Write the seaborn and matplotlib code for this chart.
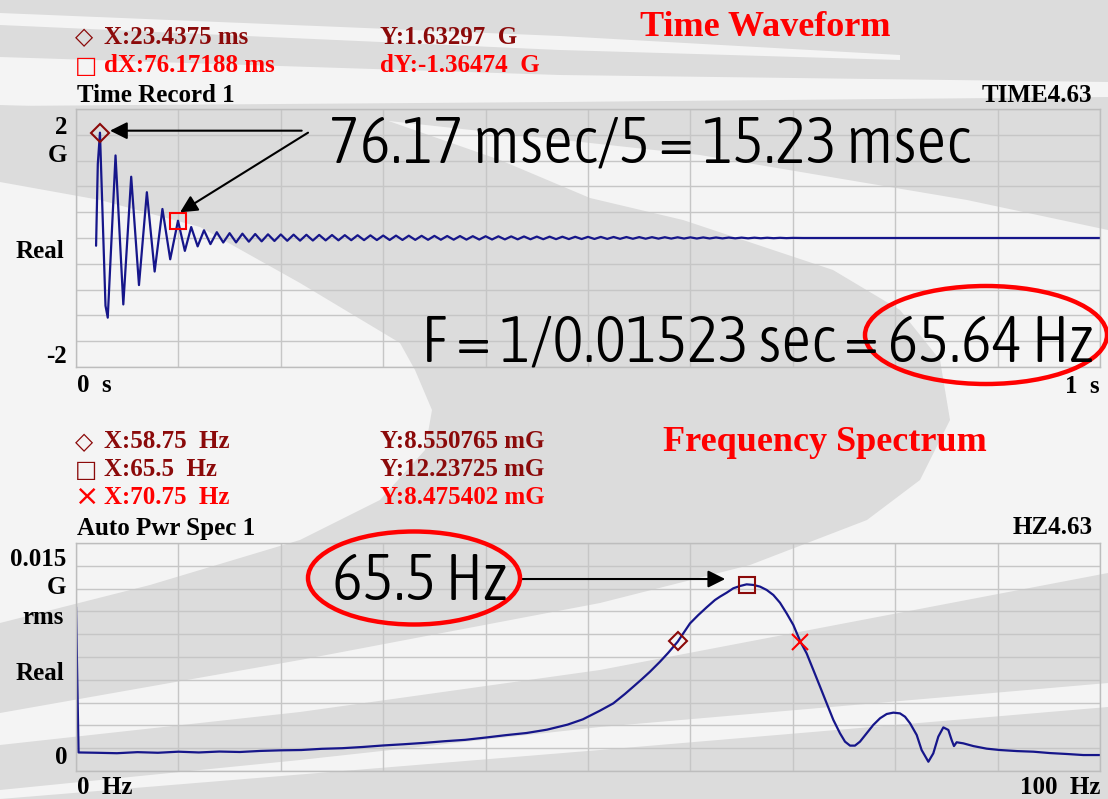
import numpy as np
import pandas as pd
import matplotlib
matplotlib.use("Agg")
import matplotlib.pyplot as plt
import seaborn as sns
from matplotlib import font_manager
from matplotlib.font_manager import FontProperties
from matplotlib.textpath import TextPath
from matplotlib.patches import Polygon, Ellipse

W, H = 1108, 799

# --- time waveform: extremes (ms, G) ---
wave_ms = [19.6, 21.3, 23.4, 28.8, 31.0, 38.6, 46.2, 53.9, 61.5, 69.2, 76.8, 84.4, 92.0, 99.6]
wave_g = [-0.12, 1.15, 1.633, -1.05, -1.235, 1.28, -1.03, 0.95, -0.73, 0.71, -0.52, 0.45, -0.33, 0.268]

# ringing tail (ms, G)
tail_ms = [106.3, 112.5, 118.8, 125.0, 131.3, 137.5, 143.8, 150.0,
           156.3, 162.5, 168.8, 175.0, 181.3, 187.5, 193.8, 200.0,
           206.3, 212.5, 218.8, 225.0, 231.3, 237.5, 243.8, 250.0,
           256.3, 262.5, 268.8, 275.0, 281.3, 287.5, 293.8, 300.0,
           306.3, 312.5, 318.8, 325.0, 331.3, 337.5, 343.8, 350.0,
           356.3, 362.5, 368.8, 375.0, 381.3, 387.5, 393.8, 400.0,
           406.3, 412.5, 418.8, 425.0, 431.3, 437.5, 443.8, 450.0,
           456.3, 462.5, 468.8, 475.0, 481.3, 487.5, 493.8, 500.0,
           506.3, 512.5, 518.8, 525.0, 531.3, 537.5, 543.8, 550.0,
           556.3, 562.5, 568.8, 575.0, 581.3, 587.5, 593.8, 600.0,
           606.3, 612.5, 618.8, 625.0, 631.3, 637.5, 643.8, 650.0,
           656.3, 662.5, 668.8, 675.0, 681.3, 687.5, 693.8, 700.0,
           710.0, 1000.0]
tail_g = [-0.20, 0.17, -0.13, 0.12, -0.095, 0.09, -0.07, 0.075,
          -0.068, 0.067, -0.057, 0.062, -0.052, 0.057, -0.046, 0.055,
          -0.043, 0.052, -0.041, 0.050, -0.039, 0.048, -0.037, 0.046,
          -0.036, 0.044, -0.034, 0.043, -0.033, 0.041, -0.032, 0.038,
          -0.031, 0.037, -0.030, 0.036, -0.029, 0.034, -0.028, 0.033,
          -0.027, 0.031, -0.026, 0.030, -0.025, 0.028, -0.024, 0.027,
          -0.023, 0.026, -0.022, 0.025, -0.021, 0.024, -0.020, 0.022,
          -0.019, 0.021, -0.018, 0.020, -0.017, 0.019, -0.016, 0.018,
          -0.015, 0.017, -0.014, 0.016, -0.013, 0.015, -0.012, 0.014,
          -0.011, 0.013, -0.010, 0.012, -0.009, 0.011, -0.008, 0.010,
          -0.008, 0.009, -0.007, 0.008, -0.006, 0.007, -0.005, 0.006,
          -0.005, 0.005, -0.004, 0.004, -0.003, 0.003, -0.002, 0.002,
          0.0, 0.0]

# --- auto power spectrum (Hz, mG) ---
spec_hz = [0, 0.25, 2, 4, 6, 8, 10, 12, 14, 16, 18, 20, 22, 24, 26, 28, 30,
           32, 34, 36, 38, 40, 42, 44, 46, 48, 49.5,
           51.17, 52.47, 53.61, 54.43, 55.24, 56.05, 57.03, 57.84, 58.76,
           59.31, 59.96, 60.77, 61.59, 62.40, 62.89, 63.54, 64.19, 64.84,
           65.49, 66.15, 66.80, 67.45, 68.10, 68.75, 69.40, 70.05, 70.74,
           71.35, 72.01, 72.66, 73.31, 73.96, 74.61, 75.10, 75.59, 76.07,
           76.56, 77.21, 77.86, 78.52, 79.17, 79.82, 80.47, 80.96, 81.45,
           82.10, 82.58, 83.24, 83.72, 84.21, 84.70, 85.19, 85.51, 85.74,
           86.00, 86.65, 87.63, 88.93, 90.23, 91.9, 93.49, 95.1, 96.74,
           98.37, 100.0]
spec_mg = [10.8, 1.22, 1.2, 1.17, 1.24, 1.2, 1.27, 1.22, 1.28, 1.25, 1.32,
           1.36, 1.38, 1.46, 1.5, 1.58, 1.68, 1.76, 1.85, 1.96, 2.05, 2.2,
           2.36, 2.5, 2.72, 3.05, 3.4,
           3.97, 4.45, 5.07, 5.55, 6.03, 6.53, 7.19, 7.78, 8.51,
           9.06, 9.71, 10.26, 10.77, 11.25, 11.47, 11.73, 12.02, 12.17,
           12.28, 12.24, 12.13, 11.91, 11.58, 11.07, 10.37, 9.61, 8.51,
           7.74, 6.64, 5.55, 4.45, 3.36, 2.48, 1.93, 1.67, 1.67,
           1.93, 2.48, 3.03, 3.47, 3.75, 3.84, 3.79, 3.57, 3.14,
           2.37, 1.38, 0.61, 1.16, 2.26, 2.87, 2.70, 2.04, 1.64,
           1.89, 1.82, 1.64, 1.47, 1.38, 1.31, 1.27, 1.18, 1.12,
           1.05, 1.05]

# cursors
t_cur_ms = [23.4375, 23.4375 + 76.17188]
t_cur_g = [1.63297, 1.63297 - 1.36474]
f_cur_hz = [58.75, 65.5, 70.75]
f_cur_mg = [8.550765, 12.23725, 8.475402]

navy = '#16168a'
dred = '#8b0a0a'
light = '#f4f4f4'
gray = '#dcdcdc'

sns.set_theme(style="white")
plt.rcParams['font.family'] = ['Liberation Serif', 'DejaVu Serif']

# a light, condensed sans for the big notes, if one is installed
stretch_val = {'ultra-condensed': 50, 'extra-condensed': 62.5, 'condensed': 75,
               'semi-condensed': 87.5}
cands = []
for f in font_manager.fontManager.ttflist:
    if f.style != 'normal':
        continue
    nm = f.name.lower()
    st = f.stretch
    if isinstance(st, str):
        st = stretch_val.get(st.lower(), 100)
    if 'narrow' in nm:
        st = 82
    elif 'condensed' in nm and st >= 100:
        st = 75
    if st >= 100:
        continue
    wt = f.weight if isinstance(f.weight, int) else font_manager.weight_dict.get(f.weight, 400)
    cands.append((abs(st - 75) / 12.5 + abs(wt - 300) / 100, f.fname))
if cands:
    cands.sort()
    big_prop = FontProperties(fname=cands[0][1])
else:
    big_prop = FontProperties(family='Liberation Sans')


def fp(x, y):
    # picture pixels (y down) -> figure fraction
    return x / W, 1 - y / H


fig = plt.figure(figsize=(W / 100, H / 100), dpi=100)
fig.patch.set_facecolor(light)


def bg(pts, color):
    fig.add_artist(Polygon([fp(x, y) for x, y in pts], closed=True,
                           transform=fig.transFigure, facecolor=color,
                           edgecolor='none', zorder=-10))


# template background swooshes
bg([(0, 0), (1108, 0), (1108, 230), (967, 200), (700, 155), (380, 120), (0, 110)], gray)
bg([(0, 13), (560, 36), (900, 55), (900, 60), (560, 50), (0, 25)], light)
bg([(0, 57), (560, 75), (1108, 82), (1108, 97), (560, 102), (0, 106)], light)
bg([(0, 105), (380, 118), (500, 160), (590, 198), (683, 220), (833, 270),
    (900, 310), (940, 360), (950, 420), (920, 480), (867, 520), (750, 565),
    (600, 603), (300, 660), (0, 713), (0, 623), (150, 585), (300, 540),
    (380, 500), (425, 450), (432, 410), (415, 370), (400, 343), (300, 283),
    (200, 227), (100, 200), (0, 182)], gray)
bg([(0, 745), (300, 712), (600, 670), (1108, 573), (1108, 683), (600, 727),
    (300, 760), (0, 790)], gray)
bg([(0, 799), (600, 750), (1108, 707), (1108, 799)], gray)


def make_axes(top, bottom):
    x0, y0 = fp(76, bottom)
    ax = fig.add_axes([x0, y0, (1100 - 76) / W, (bottom - top) / H])
    ax.set_facecolor('none')
    ax.grid(True, color='#c6c6c6', linewidth=1.0)
    ax.tick_params(length=0, labelbottom=False, labelleft=False)
    for s in ax.spines.values():
        s.set_color('#bdbdbd')
        s.set_linewidth(1.0)
    return ax


# --- top: time waveform ---
ax1 = make_axes(109, 367)
df_t = pd.DataFrame({'t': wave_ms + tail_ms, 'g': wave_g + tail_g})
sns.lineplot(data=df_t, x='t', y='g', ax=ax1, color=navy, linewidth=1.6,
             estimator=None, sort=False)
ax1.set_xlim(0, 1000)
ax1.set_ylim(-2, 2)
ax1.set_xticks(np.linspace(0, 1000, 11))
ax1.set_yticks(np.linspace(-2, 2, 11))
ax1.set_xlabel('')
ax1.set_ylabel('')
ax1.plot(t_cur_ms[0], t_cur_g[0], marker='D', ms=9, mfc='none', mec=dred, mew=1.5, zorder=5)
ax1.plot(t_cur_ms[1], t_cur_g[1], marker='s', ms=11.5, mfc='none', mec='red', mew=1.5, zorder=5)

arrow = dict(arrowstyle='-|>', color='black', lw=1.5, mutation_scale=26,
             shrinkA=0, shrinkB=0)
ax1.annotate('', xy=(33.2, 1.664), xytext=(220.4, 1.664), arrowprops=arrow,
             annotation_clip=False, zorder=6)
ax1.annotate('', xy=(101.6, 0.398), xytext=(226.6, 1.633), arrowprops=arrow,
             annotation_clip=False, zorder=6)

# --- bottom: auto power spectrum ---
ax2 = make_axes(543, 771)
df_f = pd.DataFrame({'hz': spec_hz, 'mg': spec_mg})
sns.lineplot(data=df_f, x='hz', y='mg', ax=ax2, color=navy, linewidth=1.6,
             estimator=None, sort=False)
ax2.set_xlim(0, 100)
ax2.set_ylim(0, 15)
ax2.set_xticks(np.linspace(0, 100, 11))
ax2.set_yticks(np.linspace(0, 15, 11))
ax2.set_xlabel('')
ax2.set_ylabel('')
ax2.plot(f_cur_hz[0], f_cur_mg[0], marker='D', ms=9, mfc='none', mec=dred, mew=1.5, zorder=5)
ax2.plot(f_cur_hz[1], f_cur_mg[1], marker='s', ms=12, mfc='none', mec=dred, mew=1.5, zorder=5)
ax2.plot(f_cur_hz[2], f_cur_mg[2], marker='x', ms=12, mec='red', mew=1.5, zorder=5)
ax2.annotate('', xy=(63.4, 12.63), xytext=(43.5, 12.63), arrowprops=arrow,
             annotation_clip=False, zorder=6)


# --- text ---
def txt(x, y, s, color='black', size=18, ha='left', va='center', **kw):
    kw.setdefault('fontweight', 'bold')
    return fig.text(*fp(x, y), s, color=color, fontsize=size, ha=ha, va=va, **kw)


def sym(x, y, s, color, size=17):
    fig.text(*fp(x, y), s, color=color, fontsize=size, ha='left', va='center',
             family='DejaVu Sans')


# digit height of the big font, as a fraction of its size
digit_h = TextPath((0, 0), '7', size=1, prop=big_prop).get_extents().height


def big(x0, x1, y, s, cap_px=46):
    # fit between x0 and x1, but never taller than the reference digits
    p = big_prop.copy()
    p.set_size(46)
    t = fig.text(*fp((x0 + x1) / 2, y), s, color='black', ha='center',
                 va='baseline', fontproperties=p, zorder=8)
    r = fig.canvas.get_renderer()
    w = t.get_window_extent(r).width
    size_w = 46 * (x1 - x0) / w
    size_h = cap_px * 0.72 / digit_h
    p.set_size(min(size_w, size_h))
    t.set_fontproperties(p)
    return t


txt(765, 28, 'Time Waveform', color='red', size=26, ha='center')
sym(75, 37, '\u25c7', dred)
txt(104, 37, 'X:23.4375 ms', color=dred)
txt(380, 37, 'Y:1.63297  G', color=dred)
sym(75, 66, '\u25a1', 'red')
txt(104, 66, 'dX:76.17188 ms', color='red')
txt(380, 66, 'dY:-1.36474  G', color='red')
txt(77, 95, 'Time Record 1')
txt(1092, 95, 'TIME4.63', ha='right')
txt(67, 127, '2', ha='right')
txt(67, 156, 'G', ha='right')
txt(64, 252, 'Real', ha='right')
txt(67, 356, '-2', ha='right')
txt(77, 386, '0  s')
txt(1100, 387, '1  s', ha='right')

big(327, 972, 162, '76.17 msec/5 = 15.23 msec')
big(412, 1102, 361, 'F = 1/0.01523 sec = 65.64 Hz')

txt(825, 443, 'Frequency Spectrum', color='red', size=26, ha='center')
sym(75, 442, '\u25c7', dred)
txt(104, 442, 'X:58.75  Hz', color=dred)
txt(380, 442, 'Y:8.550765 mG', color=dred)
sym(75, 470, '\u25a1', dred)
txt(104, 470, 'X:65.5  Hz', color=dred)
txt(380, 470, 'Y:12.23725 mG', color=dred)
sym(75, 497, '\u00d7', 'red', size=21)
txt(104, 498, 'X:70.75  Hz', color='red')
txt(380, 498, 'Y:8.475402 mG', color='red')
txt(77, 528, 'Auto Pwr Spec 1')
txt(1093, 528, 'HZ4.63', ha='right')
txt(66, 559, '0.015', ha='right')
txt(66, 588, 'G', ha='right')
txt(64, 617, 'rms', ha='right')
txt(64, 673, 'Real', ha='right')
txt(67, 758, '0', ha='right')
txt(77, 787, '0  Hz')
txt(1100, 787, '100  Hz', ha='right')

big(332, 507, 600, '65.5 Hz')

for cx, cy, w, h in [(986, 335, 242, 98), (414, 578, 212, 93)]:
    (ex, ey) = fp(cx, cy)
    fig.add_artist(Ellipse((ex, ey), w / W, h / H, transform=fig.transFigure,
                           fill=False, edgecolor='red', linewidth=3.2, zorder=7))

fig.savefig('out.png', dpi=100, facecolor=fig.get_facecolor())
